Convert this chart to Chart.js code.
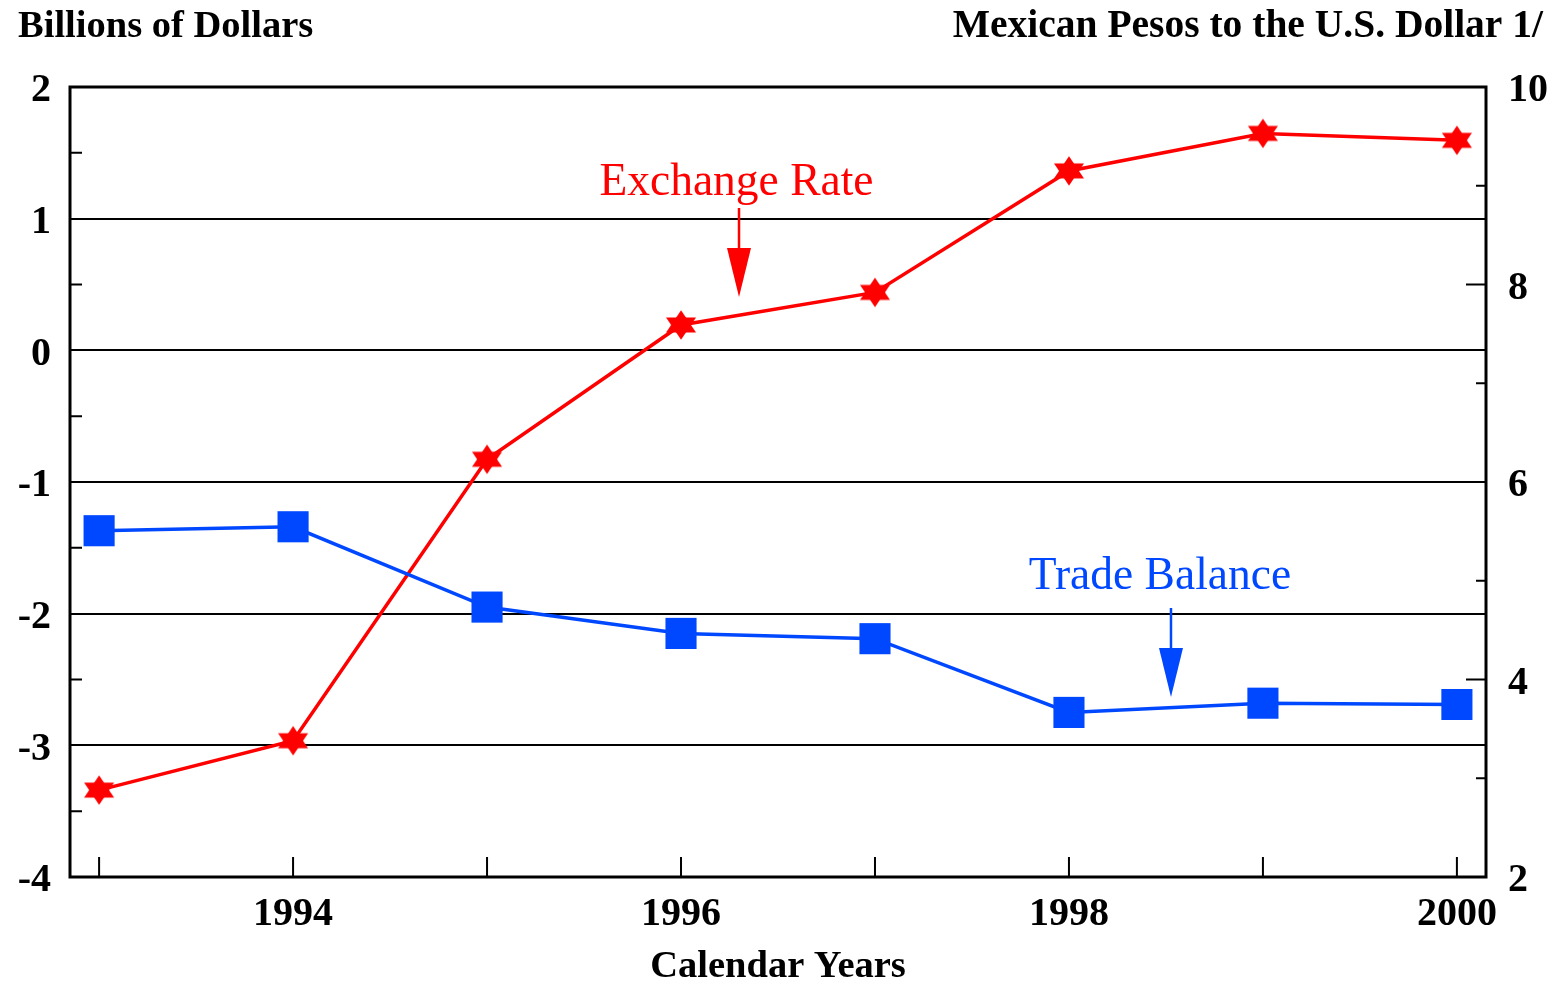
<!DOCTYPE html>
<html><head><meta charset="utf-8">
<script src="https://cdn.jsdelivr.net/npm/chart.js@4/dist/chart.umd.min.js"></script>
<style>html,body{margin:0;padding:0;background:#fff}#wrap{width:1560px;height:982px;position:relative}</style>
</head><body><div id="wrap"><canvas id="c"></canvas></div>
<script>
// ---- data ----
const years = [1993, 1994, 1995, 1996, 1997, 1998, 1999, 2000];
const tradeBalance = [-1.37, -1.34, -1.95, -2.15, -2.19, -2.75, -2.68, -2.69];
const exchangeRate = [2.88, 3.38, 6.23, 7.59, 7.92, 9.15, 9.53, 9.46];
const xTickLabels = [1994, 1996, 1998, 2000];
const leftTicks = [-4, -3, -2, -1, 0, 1, 2];
const leftMinorTicks = [-3.5, -2.5, -1.5, -0.5, 0.5, 1.5];
const rightTicks = [2, 4, 6, 8, 10];
const rightInnerMajor = [4, 6, 8];
const rightMinorTicks = [3, 5, 7, 9];
const leftTitle = 'Billions of Dollars';
const rightTitle = 'Mexican Pesos to the U.S. Dollar 1/';
const xTitle = 'Calendar Years';
const seriesNames = ['Trade Balance', 'Exchange Rate'];

// annotation anchors in axis units
const exchLabel = {x: 1996.286, y: 8.906, arrowX: 1996.299, top: 8.775, head: 8.37, tip: 7.873};
const tradeLabel = {x: 1998.469, y: -1.813, arrowX: 1998.526, top: -1.957, head: -2.261, tip: -2.633};

const RED = '#ff0000';
const BLUE = '#0048ff';
const SERIF = '"Liberation Serif", "Times New Roman", serif';

function makeStar() {
  const c = document.createElement('canvas');
  c.width = 36; c.height = 36;
  const g = c.getContext('2d');
  g.fillStyle = RED;
  const cx = 18, cy = 18, R = 14.8, sx = 1.17;
  const tri = (start) => {
    g.beginPath();
    for (let k = 0; k < 3; k++) {
      const a = (start + k * 120) * Math.PI / 180;
      const px = cx + R * Math.cos(a) * sx, py = cy + R * Math.sin(a);
      k ? g.lineTo(px, py) : g.moveTo(px, py);
    }
    g.closePath(); g.fill();
  };
  tri(-90); tri(90);
  return c;
}

const decor = {
  id: 'decor',
  beforeDatasetsDraw(chart) {
    const {ctx, chartArea: a, scales} = chart;
    const yl = scales.yL, yr = scales.yR, x = scales.x;
    ctx.save();
    ctx.strokeStyle = '#000';
    ctx.lineWidth = 2;
    ctx.beginPath();
    leftMinorTicks.forEach(v => { const p = yl.getPixelForValue(v); ctx.moveTo(a.left, p); ctx.lineTo(a.left + 12, p); });
    rightMinorTicks.forEach(v => { const p = yr.getPixelForValue(v); ctx.moveTo(a.right, p); ctx.lineTo(a.right - 10, p); });
    rightInnerMajor.forEach(v => { const p = yr.getPixelForValue(v); ctx.moveTo(a.right, p); ctx.lineTo(a.right - 20, p); });
    years.forEach(v => { const p = x.getPixelForValue(v); ctx.moveTo(p, a.bottom); ctx.lineTo(p, a.bottom - 20); });
    ctx.stroke();
    ctx.lineWidth = 3;
    ctx.strokeRect(a.left, a.top, a.right - a.left, a.bottom - a.top);
    ctx.restore();
  },
  afterDraw(chart) {
    const {ctx, scales} = chart;
    const yl = scales.yL, yr = scales.yR, x = scales.x;
    ctx.save();
    ctx.fillStyle = '#000';
    ctx.textBaseline = 'alphabetic';
    ctx.font = 'bold 38.5px ' + SERIF;
    ctx.textAlign = 'left';
    ctx.fillText(leftTitle, 18, 37);
    ctx.font = 'bold 39.5px ' + SERIF;
    ctx.textAlign = 'right';
    ctx.fillText(rightTitle, 1543, 37);
    ctx.font = 'bold 38.5px ' + SERIF;
    ctx.textAlign = 'center';
    ctx.fillText(xTitle, (chart.chartArea.left + chart.chartArea.right) / 2, 977);

    function arrow(px, yTop, yHead, yTip, color) {
      ctx.strokeStyle = color; ctx.fillStyle = color; ctx.lineWidth = 2.5;
      ctx.beginPath(); ctx.moveTo(px, yTop); ctx.lineTo(px, yHead + 2); ctx.stroke();
      ctx.beginPath(); ctx.moveTo(px - 12, yHead); ctx.lineTo(px + 12, yHead); ctx.lineTo(px, yTip); ctx.closePath(); ctx.fill();
    }
    ctx.font = '45.5px ' + SERIF;
    ctx.textAlign = 'center';
    ctx.fillStyle = RED;
    ctx.fillText(seriesNames[1], x.getPixelForValue(exchLabel.x), yr.getPixelForValue(exchLabel.y));
    arrow(x.getPixelForValue(exchLabel.arrowX), yr.getPixelForValue(exchLabel.top), yr.getPixelForValue(exchLabel.head), yr.getPixelForValue(exchLabel.tip), RED);
    ctx.fillStyle = BLUE;
    ctx.fillText(seriesNames[0], x.getPixelForValue(tradeLabel.x), yl.getPixelForValue(tradeLabel.y));
    arrow(x.getPixelForValue(tradeLabel.arrowX), yl.getPixelForValue(tradeLabel.top), yl.getPixelForValue(tradeLabel.head), yl.getPixelForValue(tradeLabel.tip), BLUE);
    ctx.restore();
  }
};

const tickFont = {family: SERIF, size: 40, weight: 'bold'};

new Chart(document.getElementById('c'), {
  type: 'line',
  data: {
    datasets: [
      {
        label: seriesNames[0],
        data: years.map((y, i) => ({x: y, y: tradeBalance[i]})),
        yAxisID: 'yL',
        borderColor: BLUE, backgroundColor: BLUE, borderWidth: 3.5,
        pointStyle: 'rect', pointRadius: 22, pointHoverRadius: 22, pointBorderWidth: 0,
        pointBackgroundColor: BLUE, tension: 0, clip: false
      },
      {
        label: seriesNames[1],
        data: years.map((y, i) => ({x: y, y: exchangeRate[i]})),
        yAxisID: 'yR',
        borderColor: RED, backgroundColor: RED, borderWidth: 3.5,
        pointStyle: makeStar(), pointRadius: 16, pointHoverRadius: 16,
        tension: 0, clip: false
      }
    ]
  },
  options: {
    responsive: true, maintainAspectRatio: false, animation: false,
    layout: {padding: {top: 87, left: 0, right: 0, bottom: 0}},
    plugins: {legend: {display: false}, tooltip: {enabled: false}, title: {display: false}},
    events: [],
    scales: {
      x: {
        type: 'linear', position: 'bottom', min: 1992.85, max: 2000.15,
        afterBuildTicks: s => { s.ticks = xTickLabels.map(v => ({value: v})); },
        afterFit: s => { s.height = 105; },
        ticks: {font: tickFont, color: '#000', padding: 14, maxRotation: 0, callback: v => String(v)},
        grid: {display: false, drawTicks: false},
        border: {display: false}
      },
      yL: {
        type: 'linear', position: 'left', min: -4, max: 2,
        afterBuildTicks: s => { s.ticks = leftTicks.map(v => ({value: v})); },
        afterFit: s => { s.width = 70; },
        ticks: {font: tickFont, color: '#000', padding: 19, labelOffset: 4},
        grid: {color: '#000', lineWidth: 2, drawTicks: false},
        border: {display: false}
      },
      yR: {
        type: 'linear', position: 'right', min: 2, max: 10,
        afterBuildTicks: s => { s.ticks = rightTicks.map(v => ({value: v})); },
        afterFit: s => { s.width = 74; },
        ticks: {font: tickFont, color: '#000', padding: 22, labelOffset: 4},
        grid: {display: false, drawTicks: false},
        border: {display: false}
      }
    }
  },
  plugins: [decor]
});
</script>
</body></html>
